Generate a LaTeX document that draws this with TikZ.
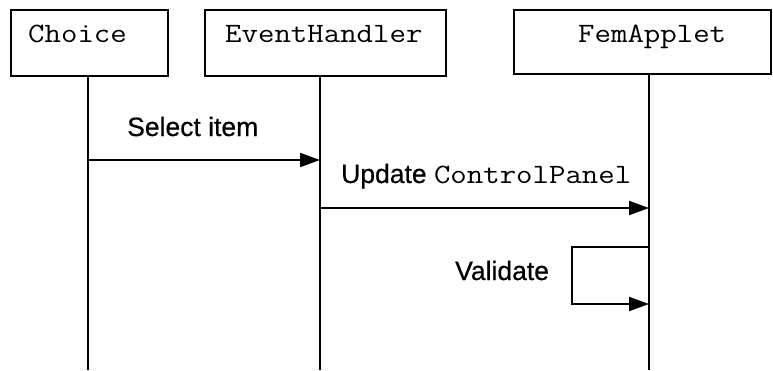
\documentclass[tikz,border=0pt]{standalone}
\usepackage{fontspec}
\setmainfont{Liberation Sans}[FakeBold=0.6]
\setmonofont{Latin Modern Mono}[FakeStretch=1.14]
\usetikzlibrary{arrows.meta}
\begin{document}
\begin{tikzpicture}[x=1pt, y=-1pt,
  lw/.style={line width=2pt},
  objbox/.style={draw, lw, rectangle, anchor=north west, inner sep=0pt},
  objname/.style={anchor=base west, inner sep=0pt, font=\fontsize{28}{30}\selectfont\ttfamily},
  msgtext/.style={anchor=base west, inner sep=0pt, font=\fontsize{26.5}{30}\selectfont},
  lifeline/.style={lw},
  msg/.style={lw, -{Triangle[length=20pt, width=14pt]}}
]
\useasboundingbox (0,0) rectangle (773,370);

% object boxes
\node[objbox, minimum width=157pt, minimum height=66pt] (choice) at (9.5,9) {};
\node[objbox, minimum width=241pt, minimum height=66pt] (handler) at (204,9) {};
\node[objbox, minimum width=257pt, minimum height=64pt] (applet) at (513,9) {};

\node[objname] (choiceName) at (28,42) {Choice};
\node[objname] (handlerName) at (225,42) {EventHandler};
\node[objname] (appletName) at (578,42) {FemApplet};

% lifelines
\coordinate (cTop) at (88,75);   \coordinate (cBot) at (88,370);
\coordinate (hTop) at (320,75);  \coordinate (hBot) at (320,370);
\coordinate (aTop) at (649,73);  \coordinate (aBot) at (649,370);
\draw[lifeline] (cTop) -- (cBot);
\draw[lifeline] (hTop) -- (hBot);
\draw[lifeline] (aTop) -- (aBot);

% messages
\coordinate (m1s) at (88,160);  \coordinate (m1e) at (320,160);
\draw[msg] (m1s) -- (m1e);
\node[msgtext] (m1) at (127,136) {Select item};

\coordinate (m2s) at (320,208); \coordinate (m2e) at (649,208);
\draw[msg] (m2s) -- (m2e);
\node[msgtext] (m2) at (341,183) {Update \fontsize{28}{30}\selectfont\ttfamily ControlPanel};

% self call
\coordinate (m3s) at (649,247); \coordinate (m3e) at (649,304);
\coordinate (m3c) at (572,247);
\draw[msg] (m3s) -- (m3c) |- (m3e);
\node[msgtext] (m3) at (455,280) {Validate};
\end{tikzpicture}
\end{document}
